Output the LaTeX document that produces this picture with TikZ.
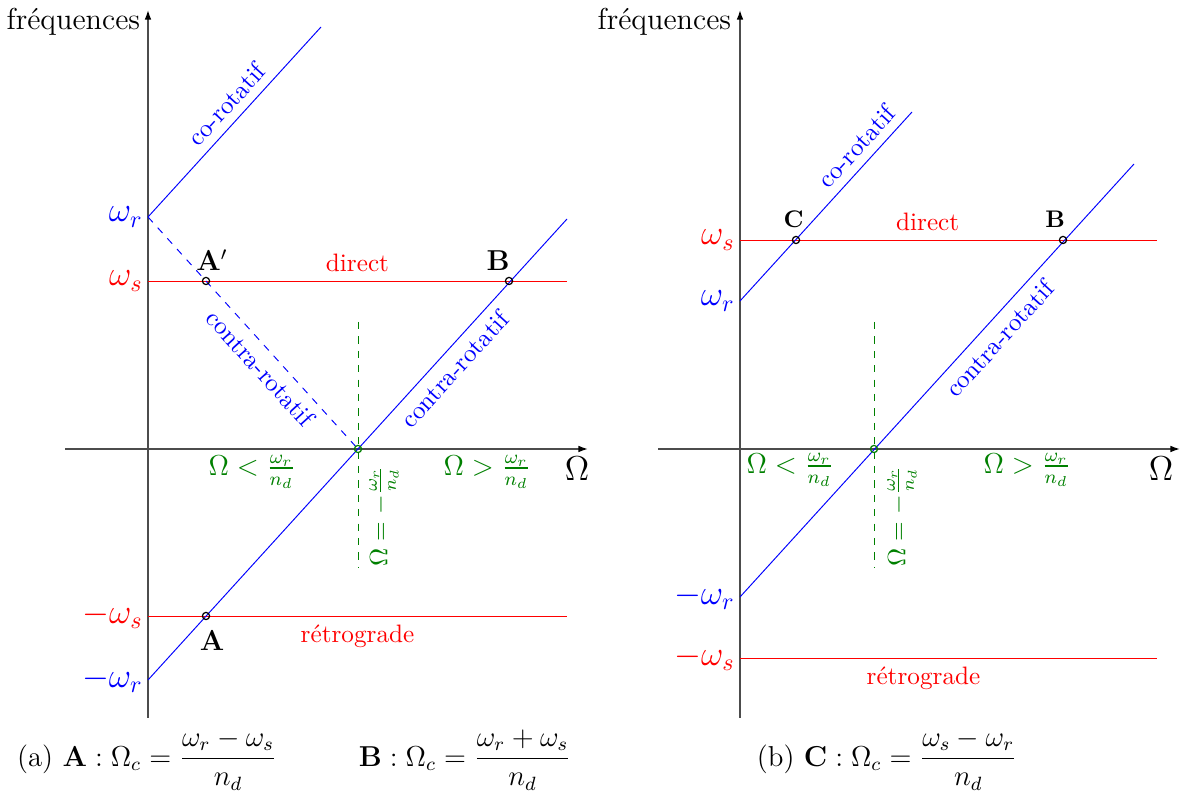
\documentclass[tikz,border=0pt]{standalone}
\usepackage{amsmath}
\usetikzlibrary{arrows.meta, positioning}

\begin{document}
\begin{tikzpicture}[
    x=4.1667pt, y=4.1667pt,
    axe/.style={-{Latex[length=4pt, width=2.8pt, black]}, draw=black!70, line width=0.6pt},
    rotor/.style={blue, line width=0.4pt},
    stator/.style={red, line width=0.4pt},
    seuil/.style={green!50!black, dashed, line width=0.4pt},
    croise/.style={circle, draw=black, line width=0.5pt, inner sep=0pt, minimum size=3pt},
    freq/.style={anchor=east, font=\Large, inner sep=2pt},
    titre/.style={anchor=east, font=\large, scale=1.05},
    zone/.style={green!50!black, font=\large},
    nomlig/.style={sloped, font=\normalsize, scale=1.05},
    nomsta/.style={red, font=\normalsize, scale=1.05},
    pointa/.style={font=\large},
    pointb/.style={font=\normalsize}
]
\useasboundingbox (0,0) rectangle (118.7,79.6);

% (a) cas omega_s < omega_r
\begin{scope}[shift={(14.8,34.7)}]
\coordinate (a-ybas) at (0,-26.9);
\coordinate (a-yhaut) at (0,43.9);
\coordinate (a-xgau) at (-8.3,0);
\coordinate (a-xdro) at (44.0,0);
\draw[axe] (a-xgau) -- (a-xdro);
\draw[axe] (a-ybas) -- (a-yhaut);
\node[titre] (a-freq) at (0.1,42.7) {fréquences};
\node[font=\Large] (a-omega) at (42.9,-2.0) {$\Omega$};

\coordinate (a-wr) at (0,23.2);
\coordinate (a-ws) at (0,16.8);
\coordinate (a-mws) at (0,-16.7);
\coordinate (a-mwr) at (0,-23.1);
\coordinate (a-co) at (17.3,42.2);
\coordinate (a-contra) at (41.9,23.0);
\coordinate (a-dir) at (41.9,16.8);
\coordinate (a-retro) at (41.9,-16.7);
\coordinate (a-sh) at (21.0,12.7);
\coordinate (a-sb) at (21.0,-11.9);

\node[freq, blue] (a-lwr) at (a-wr) {$\omega_r$};
\node[freq, red] (a-lws) at (a-ws) {$\omega_s$};
\node[freq, red] (a-lmws) at (a-mws) {$-\omega_s$};
\node[freq, blue] (a-lmwr) at (a-mwr) {$-\omega_r$};

\draw[seuil] (a-sh) -- (a-sb);
\draw[stator] (a-ws) -- node[nomsta, above, pos=0.5] {direct} (a-dir);
\draw[stator] (a-mws) -- node[nomsta, below, pos=0.5] {rétrograde} (a-retro);
\draw[rotor] (a-wr) -- node[nomlig, above, pos=0.53] {co-rotatif} (a-co);
\draw[rotor, dashed] (a-wr) -- node[nomlig, below, pos=0.6] {contra-rotatif} (21.0,0);
\draw[rotor] (a-mwr) -- node[nomlig, below, pos=0.7] {contra-rotatif} (a-contra);

\node[croise, draw=green!50!black] (a-c) at (21.0,0) {};
\node[croise] (a-Ap) at (5.8,16.8) {};
\node[croise] (a-B) at (36.1,16.8) {};
\node[croise] (a-A) at (5.8,-16.7) {};
\node[pointa, above=-1pt of a-Ap, xshift=2.5pt] (a-lAp) {$\mathbf{A}'$};
\node[pointa, above=-1pt of a-B, xshift=-4.5pt] (a-lB) {$\mathbf{B}$};
\node[pointa, below=1pt of a-A, xshift=2.5pt] (a-lA) {$\mathbf{A}$};

\node[zone] (a-inf) at (10.4,-2.3) {$\Omega < \frac{\omega_r}{n_d}$};
\node[zone] (a-sup) at (33.9,-2.3) {$\Omega > \frac{\omega_r}{n_d}$};
\node[zone, font=\normalsize, scale=1.05, rotate=90] (a-egal) at (23.6,-6.7) {$\Omega = -\frac{\omega_r}{n_d}$};
\end{scope}

% (b) cas omega_s > omega_r
\begin{scope}[shift={(74.0,34.7)}]
\coordinate (b-ybas) at (0,-26.9);
\coordinate (b-yhaut) at (0,43.9);
\coordinate (b-xgau) at (-8.2,0);
\coordinate (b-xdro) at (44.0,0);
\draw[axe] (b-xgau) -- (b-xdro);
\draw[axe] (b-ybas) -- (b-yhaut);
\node[titre] (b-freq) at (0.0,42.7) {fréquences};
\node[font=\Large] (b-omega) at (42.1,-2.0) {$\Omega$};

\coordinate (b-ws) at (0,20.9);
\coordinate (b-wr) at (0,14.8);
\coordinate (b-mwr) at (0,-14.8);
\coordinate (b-mws) at (0,-20.9);
\coordinate (b-co) at (17.2,33.7);
\coordinate (b-contra) at (39.4,28.5);
\coordinate (b-dir) at (41.7,20.9);
\coordinate (b-retro) at (41.7,-20.9);
\coordinate (b-sh) at (13.4,12.7);
\coordinate (b-sb) at (13.4,-11.9);

\node[freq, red] (b-lws) at (b-ws) {$\omega_s$};
\node[freq, blue] (b-lwr) at (b-wr) {$\omega_r$};
\node[freq, blue] (b-lmwr) at (b-mwr) {$-\omega_r$};
\node[freq, red] (b-lmws) at (b-mws) {$-\omega_s$};

\draw[seuil] (b-sh) -- (b-sb);
\draw[stator] (b-ws) -- node[nomsta, above, pos=0.45] {direct} (b-dir);
\draw[stator] (b-mws) -- node[nomsta, below, pos=0.44] {rétrograde} (b-retro);
\draw[rotor] (b-wr) -- node[nomlig, above, pos=0.754] {co-rotatif} (b-co);
\draw[rotor] (b-mwr) -- node[nomlig, below, pos=0.625] {contra-rotatif} (b-contra);

\node[croise, draw=green!50!black] (b-c) at (13.4,0) {};
\node[croise] (b-C) at (5.6,20.9) {};
\node[croise] (b-B) at (32.3,20.9) {};
\node[pointb, above=0pt of b-C, xshift=-1pt] (b-lC) {$\mathbf{C}$};
\node[pointb, above=0pt of b-B, xshift=-3.3pt] (b-lB) {$\mathbf{B}$};

\node[zone] (b-inf) at (5.0,-2.1) {$\Omega < \frac{\omega_r}{n_d}$};
\node[zone] (b-sup) at (28.7,-2.1) {$\Omega > \frac{\omega_r}{n_d}$};
\node[zone, font=\normalsize, scale=1.05, rotate=90] (b-egal) at (16.2,-6.7) {$\Omega = -\frac{\omega_r}{n_d}$};
\end{scope}

% legendes
\node[font=\large] (leg-a) at (14.7,3.6) {(a) $\mathbf{A} : \Omega_c = \dfrac{\omega_r - \omega_s}{n_d}$};
\node[font=\large] (leg-ab) at (46.5,3.6) {$\mathbf{B} : \Omega_c = \dfrac{\omega_r + \omega_s}{n_d}$};
\node[font=\large] (leg-b) at (88.7,3.6) {(b) $\mathbf{C} : \Omega_c = \dfrac{\omega_s - \omega_r}{n_d}$};
\end{tikzpicture}
\end{document}
